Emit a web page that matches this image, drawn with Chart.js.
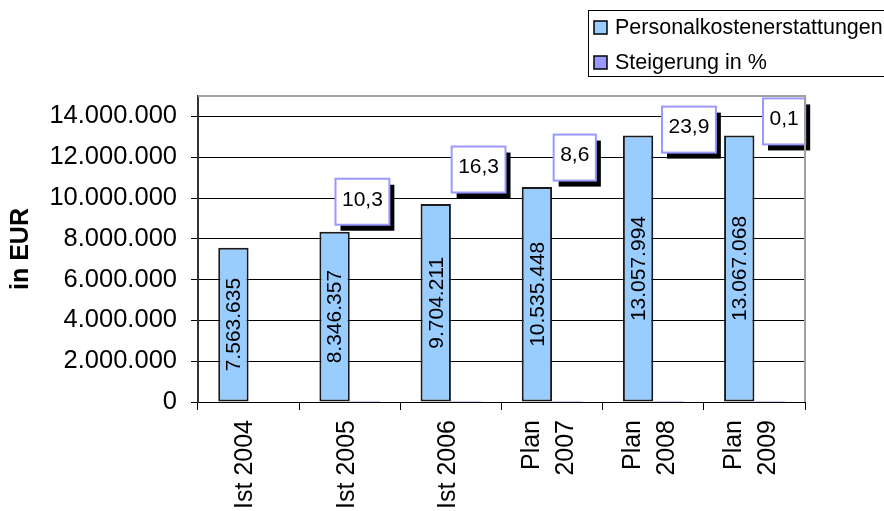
<!DOCTYPE html>
<html>
<head>
<meta charset="utf-8">
<script src="https://cdn.jsdelivr.net/npm/chart.js@4.4.1/dist/chart.umd.min.js"></script>
<style>
  html, body { margin: 0; padding: 0; background: #ffffff; }
  #wrap { width: 884px; height: 511px; position: relative; }
</style>
</head>
<body>
<div id="wrap"><canvas id="c" width="884" height="511"></canvas></div>
<script>
// ---- data ----
const categories = ['Ist 2004', 'Ist 2005', 'Ist 2006', ['Plan', '2007'], ['Plan', '2008'], ['Plan', '2009']];
const personalkosten = [7563635, 8346357, 9704211, 10535448, 13057994, 13067068];
const steigerung = [null, 10.3, 16.3, 8.6, 23.9, 0.1];
const seriesNames = ['Personalkostenerstattungen', 'Steigerung in %'];
const yTickValues = [0, 2000000, 4000000, 6000000, 8000000, 10000000, 12000000, 14000000];

const FONT = "'Liberation Sans', Arial, sans-serif";

function fmtEUR(v) {
  return String(Math.round(v)).replace(/\B(?=(\d{3})+(?!\d))/g, '.');
}
function fmtPct(v) {
  return String(v).replace('.', ',');
}

// label box placement (pixel offsets from 2nd-series bar centre x / 1st-series bar top y)
const pctBoxOffsets = [null, [-2.5, -30], [12.5, -34.5], [7.5, -29.5], [20.5, -6], [14.5, -14]];

const framePlugin = {
  id: 'frame',
  afterDraw(chart) {
    const { ctx, chartArea: a } = chart;
    ctx.save();
    ctx.strokeStyle = '#a0a0a0';
    ctx.lineWidth = 2;
    ctx.beginPath();
    ctx.moveTo(a.left, a.top);
    ctx.lineTo(a.right, a.top);
    ctx.lineTo(a.right, a.bottom);
    ctx.stroke();
    ctx.restore();
  }
};

// category labels drawn rotated, lines side by side, ending just below the axis
const xLabelPlugin = {
  id: 'xLabels',
  afterDraw(chart) {
    const { ctx, chartArea: a } = chart;
    const xs = chart.scales.x;
    ctx.save();
    ctx.font = '25px ' + FONT;
    ctx.fillStyle = '#000';
    ctx.textAlign = 'right';
    ctx.textBaseline = 'middle';
    const pitch = 34;
    categories.forEach((lab, i) => {
      const lines = Array.isArray(lab) ? lab : [lab];
      const cx = xs.getPixelForTick(i) - 3;
      lines.forEach((ln, j) => {
        const x = cx + (j - (lines.length - 1) / 2) * pitch;
        ctx.save();
        ctx.translate(x, a.bottom + 18);
        ctx.rotate(-Math.PI / 2);
        ctx.fillText(ln, 0, 0);
        ctx.restore();
      });
    });
    ctx.restore();
  }
};

const labelPlugin = {
  id: 'labels',
  afterDatasetsDraw(chart) {
    const { ctx } = chart;
    const m0 = chart.getDatasetMeta(0);
    const m1 = chart.getDatasetMeta(1);
    ctx.save();
    ctx.font = '21px ' + FONT;
    ctx.fillStyle = '#000';
    ctx.textAlign = 'center';
    ctx.textBaseline = 'middle';
    m0.data.forEach((bar, i) => {
      const cy = (bar.y + bar.base) / 2;
      ctx.save();
      ctx.translate(bar.x + 1, cy);
      ctx.rotate(-Math.PI / 2);
      ctx.fillText(fmtEUR(personalkosten[i]), 0, 0);
      ctx.restore();
    });
    m1.data.forEach((bar, i) => {
      const v = steigerung[i];
      if (v === null || v === undefined || !pctBoxOffsets[i]) return;
      const txt = fmtPct(v);
      ctx.font = '21px ' + FONT;
      const tw = ctx.measureText(txt).width;
      const w = tw + 13, h = 46;
      const cx = bar.x + pctBoxOffsets[i][0];
      const cy = m0.data[i].y + pctBoxOffsets[i][1];
      const x = cx - w / 2, y = cy - h / 2;
      ctx.fillStyle = '#000';
      ctx.fillRect(x + 5, y + 6, w, h);
      ctx.fillStyle = '#fff';
      ctx.fillRect(x, y, w, h);
      ctx.strokeStyle = '#9999FF';
      ctx.lineWidth = 2;
      ctx.strokeRect(x, y, w, h);
      ctx.fillStyle = '#000';
      ctx.textAlign = 'center';
      ctx.textBaseline = 'middle';
      ctx.fillText(txt, cx, cy - 2);
    });
    ctx.restore();
  }
};

const legendPlugin = {
  id: 'customLegend',
  afterDraw(chart) {
    const { ctx } = chart;
    ctx.save();
    ctx.strokeStyle = '#000';
    ctx.lineWidth = 1;
    ctx.strokeRect(588.5, 10.5, 300, 66);
    chart.data.datasets.forEach((d, i) => {
      const cy = 27.5 + i * 35;
      ctx.fillStyle = d.backgroundColor;
      ctx.fillRect(594, cy - 6.5, 13, 13);
      ctx.strokeStyle = '#000';
      ctx.lineWidth = 1.5;
      ctx.strokeRect(594, cy - 6.5, 13, 13);
      ctx.fillStyle = '#000';
      ctx.font = '21.5px ' + FONT;
      ctx.textAlign = 'left';
      ctx.textBaseline = 'middle';
      ctx.fillText(d.label, 615, cy + 1);
    });
    ctx.restore();
  }
};

new Chart(document.getElementById('c'), {
  type: 'bar',
  data: {
    labels: categories,
    datasets: [
      {
        label: seriesNames[0],
        data: personalkosten,
        backgroundColor: '#99CCFF',
        borderColor: '#1a1a1a',
        borderWidth: 2,
        borderSkipped: false,
        categoryPercentage: 0.6,
        barPercentage: 1.0
      },
      {
        label: seriesNames[1],
        data: steigerung,
        backgroundColor: '#9999FF',
        borderWidth: 0,
        categoryPercentage: 0.6,
        barPercentage: 1.0
      }
    ]
  },
  options: {
    responsive: false,
    animation: false,
    devicePixelRatio: 1,
    layout: { padding: { top: 96, right: 79, left: 0, bottom: 0 } },
    plugins: {
      legend: { display: false },
      tooltip: { enabled: false },
      title: { display: false }
    },
    scales: {
      x: {
        grid: {
          display: true,
          drawOnChartArea: false,
          drawTicks: true,
          tickLength: 8,
          tickColor: '#000',
          color: '#000',
          offset: true
        },
        border: { display: true, color: '#000', width: 1 },
        ticks: { display: false },
        afterFit(scale) { scale.height = 109; }
      },
      y: {
        min: 0,
        max: 15000000,
        grid: {
          color: '#000',
          lineWidth: 1,
          tickLength: 7,
          tickColor: '#000'
        },
        border: { display: true, color: '#333', width: 2 },
        ticks: {
          color: '#000',
          font: { family: FONT, size: 25.5 },
          padding: 14,
          callback: (v) => fmtEUR(v)
        },
        afterBuildTicks(scale) {
          scale.ticks = yTickValues.map(v => ({ value: v }));
        },
        title: {
          display: true,
          text: 'in EUR',
          color: '#000',
          font: { family: FONT, size: 25, weight: 'bold' },
          padding: { top: 6, bottom: 0 }
        },
        afterFit(scale) { scale.width = 198; }
      }
    }
  },
  plugins: [framePlugin, labelPlugin, xLabelPlugin, legendPlugin]
});
</script>
</body>
</html>
